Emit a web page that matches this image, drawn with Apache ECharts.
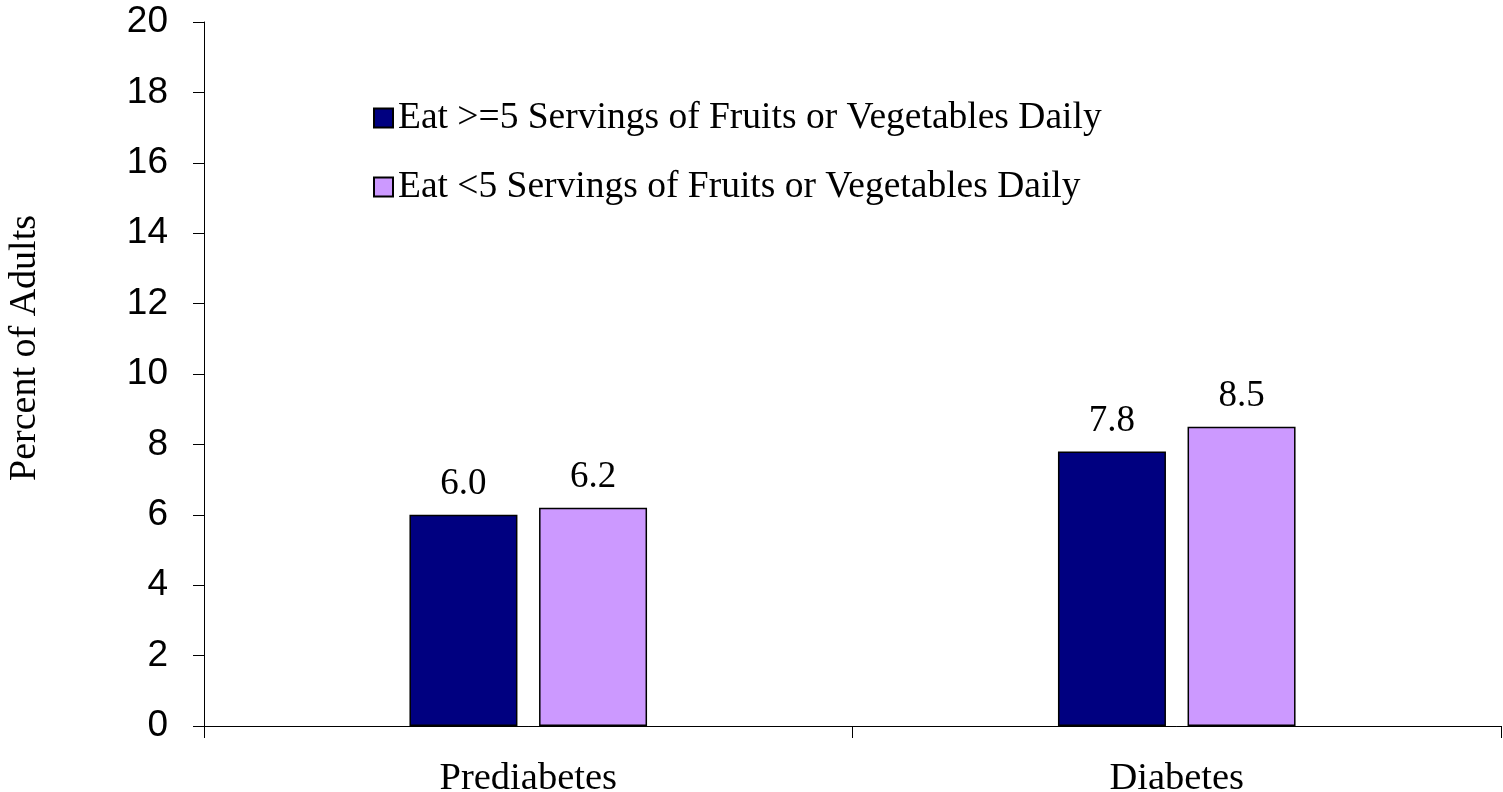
<!DOCTYPE html>
<html>
<head>
<meta charset="utf-8">
<script src="https://cdn.jsdelivr.net/npm/echarts@6/dist/echarts.min.js"></script>
<style>
html, body { margin: 0; padding: 0; background: #fff; }
#main { width: 1503px; height: 792px; }
</style>
</head>
<body>
<div id="main"></div>
<script>
// data
var categories = ['Prediabetes', 'Diabetes'];
var eatFive = [6.0, 7.8];
var eatLess = [6.2, 8.5];
var seriesNames = ['Eat >=5 Servings of Fruits or Vegetables Daily', 'Eat <5 Servings of Fruits or Vegetables Daily'];

var myChart = echarts.init(document.getElementById('main'));

var serif = '"Liberation Serif", "Times New Roman", serif';
var sans = '"Liberation Sans", Arial, sans-serif';

var labelOpt = {
    show: true,
    position: 'top',
    distance: 12,
    fontFamily: serif,
    fontSize: 37,
    color: '#000',
    formatter: function (p) { return p.value.toFixed(1); }
};

var option = {
    animation: false,
    grid: { left: 204, right: 2, top: 22, bottom: 66, containLabel: false, outerBoundsMode: 'none' },
    legend: {
        orient: 'vertical',
        left: 368,
        top: 94,
        itemGap: 31,
        itemWidth: 19,
        itemHeight: 19,
        icon: 'rect',
        textStyle: { fontFamily: serif, fontSize: 37.5, color: '#000', padding: [0, 0, 0, 0] },
        data: seriesNames
    },
    xAxis: {
        type: 'category',
        data: categories,
        axisLine: { lineStyle: { color: '#000', width: 1 } },
        axisTick: { show: true, length: 12, lineStyle: { color: '#000' } },
        axisLabel: { margin: 33, fontFamily: serif, fontSize: 38.5, color: '#000' }
    },
    yAxis: {
        type: 'value',
        min: 0,
        max: 20,
        interval: 2,
        name: 'Percent of Adults',
        nameLocation: 'middle',
        nameGap: 160,
        nameTextStyle: { fontFamily: serif, fontSize: 38, color: '#000', padding: [0, 0, 0, 52] },
        axisLine: { show: true, lineStyle: { color: '#000', width: 1 } },
        axisTick: { show: true, length: 11, lineStyle: { color: '#000' } },
        axisLabel: { margin: 36, fontFamily: sans, fontSize: 37, color: '#000' },
        splitLine: { show: false }
    },
    series: [{
        name: seriesNames[0],
        type: 'bar',
        data: eatFive,
        barWidth: 108,
        barGap: '20%',
        itemStyle: { color: '#000080', borderColor: '#000', borderWidth: 1.5 },
        label: labelOpt
    }, {
        name: seriesNames[1],
        type: 'bar',
        data: eatLess,
        barWidth: 108,
        itemStyle: { color: '#CC99FF', borderColor: '#000', borderWidth: 1.5 },
        label: labelOpt
    }]
};

myChart.setOption(option);
</script>
</body>
</html>
